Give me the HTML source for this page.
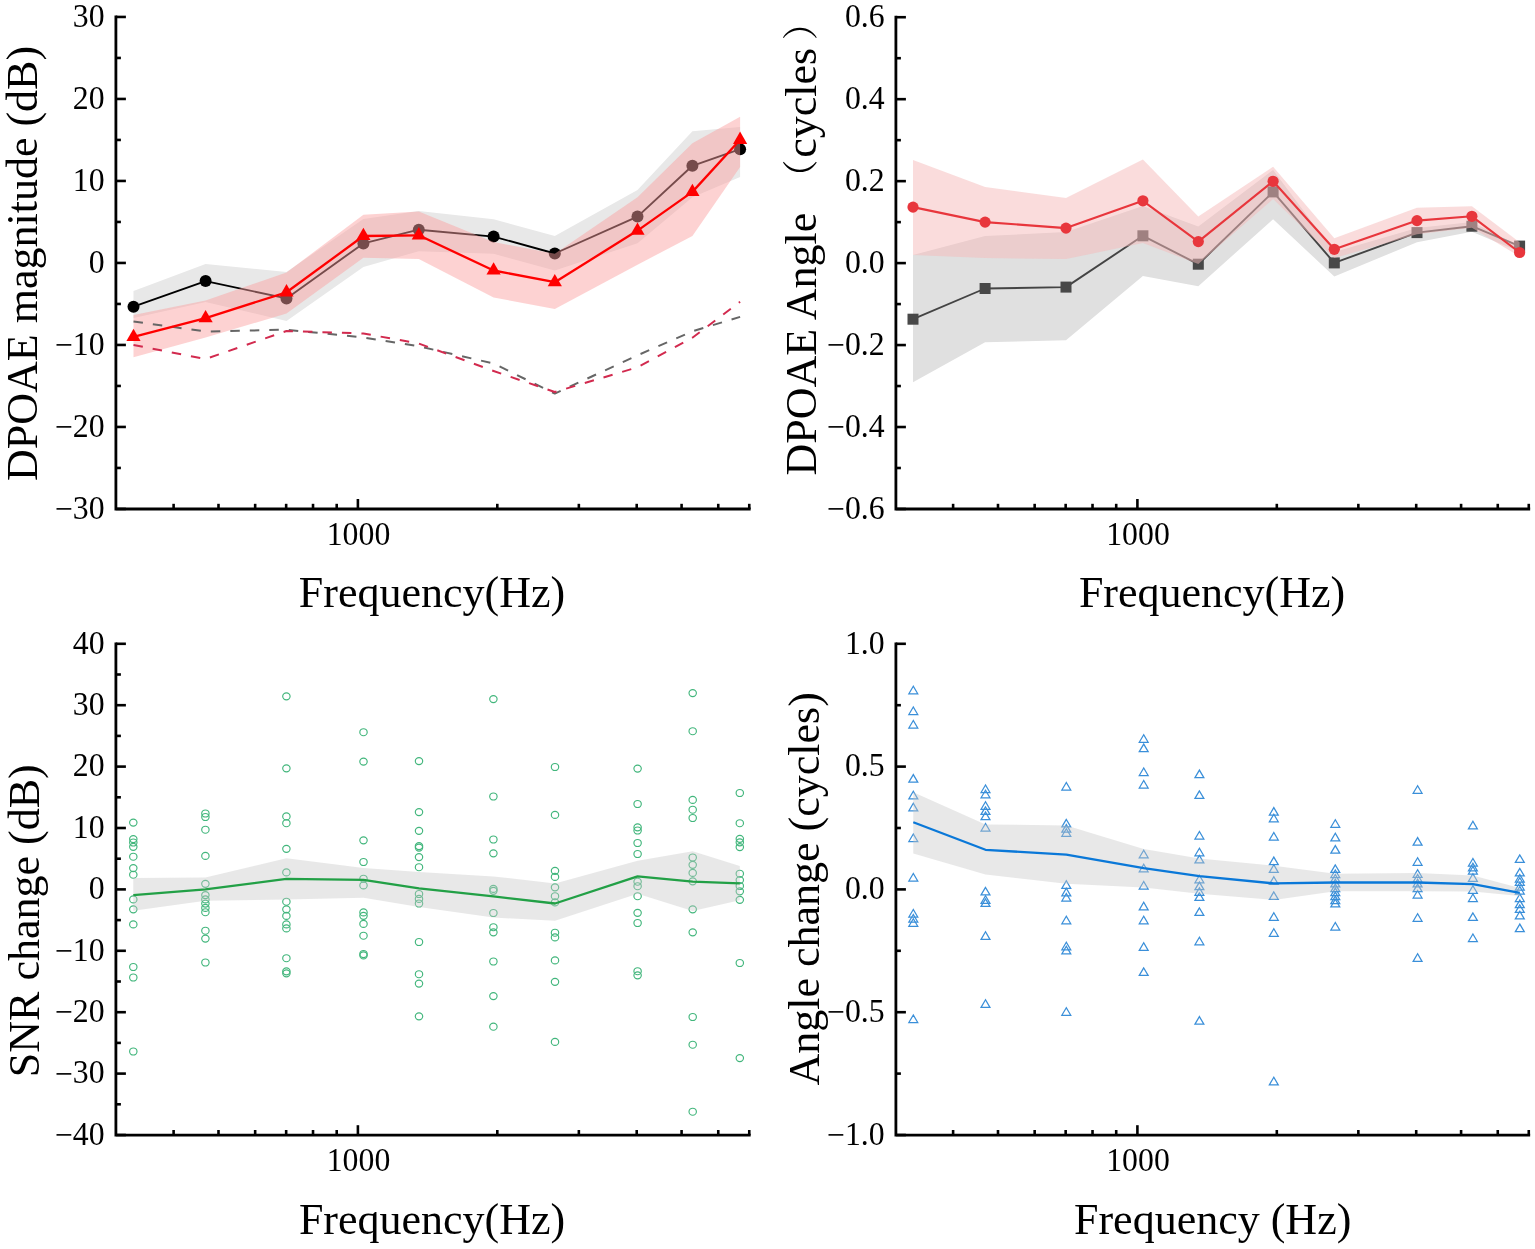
<!DOCTYPE html><html><head><meta charset="utf-8"><style>html,body{margin:0;padding:0;background:#fff;}svg{display:block;}</style></head><body>
<svg width="1535" height="1249" viewBox="0 0 1535 1249" font-family='"Liberation Serif", "Times New Roman", serif' fill="#000">
<rect width="1535" height="1249" fill="#fff"/>
<polygon points="133.5,291 205.6,264.1 286.5,272 363.4,219 418.8,211 493.6,219.3 554.8,236 637.5,190.1 692.4,131.2 740.1,127 740.1,177 692.4,197.3 637.5,243.2 554.8,270.4 493.6,253.8 418.8,251.2 363.4,266.9 286.5,321 205.6,302 133.5,318" fill="#e8e8e8"/>
<polyline points="133.5,306.7 205.6,281.1 286.5,298.4 363.4,243.4 418.8,229.7 493.6,236.6 554.8,253.5 637.5,216.6 692.4,165.8 740.1,149.2" fill="none" stroke="#000" stroke-width="1.9" stroke-linejoin="round" stroke-linecap="butt" />
<circle cx="133.5" cy="306.7" r="6" fill="#000"/>
<circle cx="205.6" cy="281.1" r="6" fill="#000"/>
<circle cx="286.5" cy="298.4" r="6" fill="#000"/>
<circle cx="363.4" cy="243.4" r="6" fill="#000"/>
<circle cx="418.8" cy="229.7" r="6" fill="#000"/>
<circle cx="493.6" cy="236.6" r="6" fill="#000"/>
<circle cx="554.8" cy="253.5" r="6" fill="#000"/>
<circle cx="637.5" cy="216.6" r="6" fill="#000"/>
<circle cx="692.4" cy="165.8" r="6" fill="#000"/>
<circle cx="740.1" cy="149.2" r="6" fill="#000"/>
<polygon points="133.5,315.1 205.6,300.4 286.5,272.5 363.4,214.8 418.8,211.5 493.6,242 554.8,253.8 637.5,197.3 692.4,143.2 740.1,116.8 740.1,167 692.4,236 637.5,264.7 554.8,309.1 493.6,297.5 418.8,259 363.4,257.8 286.5,313.5 205.6,337.5 133.5,357.3" fill="rgba(250,160,160,0.47)"/>
<polyline points="133.5,321.5 205.6,331.5 286.5,329.7 363.4,337.5 418.8,346.3 493.6,363.5 554.8,393.6 637.5,355.3 692.4,331.3 740.1,316.9" fill="none" stroke="#666666" stroke-width="2" stroke-linejoin="round" stroke-linecap="butt" stroke-dasharray="9.5 10"/>
<polyline points="133.5,345 205.6,359 286.5,331 363.4,333.5 418.8,343.5 493.6,371 554.8,392 637.5,367.3 692.4,337.7 740.1,301.7" fill="none" stroke="#d22a4e" stroke-width="2" stroke-linejoin="round" stroke-linecap="butt" stroke-dasharray="9.5 10"/>
<polyline points="133.5,336.9 205.6,318.1 286.5,292.3 363.4,236 418.8,235.3 493.6,270.5 554.8,282.2 637.5,230.6 692.4,191.9 740.1,139.8" fill="none" stroke="#ff0000" stroke-width="2.3" stroke-linejoin="round" stroke-linecap="butt" />
<polygon points="133.5,328.7 126.4,341 140.6,341" fill="#ff0000"/>
<polygon points="205.6,309.9 198.5,322.2 212.7,322.2" fill="#ff0000"/>
<polygon points="286.5,284.1 279.4,296.4 293.6,296.4" fill="#ff0000"/>
<polygon points="363.4,227.8 356.3,240.1 370.5,240.1" fill="#ff0000"/>
<polygon points="418.8,227.1 411.7,239.4 425.9,239.4" fill="#ff0000"/>
<polygon points="493.6,262.3 486.5,274.6 500.7,274.6" fill="#ff0000"/>
<polygon points="554.8,274 547.7,286.3 561.9,286.3" fill="#ff0000"/>
<polygon points="637.5,222.4 630.4,234.7 644.6,234.7" fill="#ff0000"/>
<polygon points="692.4,183.7 685.3,196 699.5,196" fill="#ff0000"/>
<polygon points="740.1,131.6 733,143.9 747.2,143.9" fill="#ff0000"/>
<line x1="115.9" y1="16.95" x2="125.9" y2="16.95" stroke="#000" stroke-width="2.6"/>
<line x1="115.9" y1="98.95" x2="125.9" y2="98.95" stroke="#000" stroke-width="2.6"/>
<line x1="115.9" y1="180.95" x2="125.9" y2="180.95" stroke="#000" stroke-width="2.6"/>
<line x1="115.9" y1="262.95" x2="125.9" y2="262.95" stroke="#000" stroke-width="2.6"/>
<line x1="115.9" y1="344.95" x2="125.9" y2="344.95" stroke="#000" stroke-width="2.6"/>
<line x1="115.9" y1="426.95" x2="125.9" y2="426.95" stroke="#000" stroke-width="2.6"/>
<line x1="115.9" y1="508.95" x2="125.9" y2="508.95" stroke="#000" stroke-width="2.6"/>
<line x1="115.9" y1="57.95" x2="120.9" y2="57.95" stroke="#000" stroke-width="2.6"/>
<line x1="115.9" y1="139.95" x2="120.9" y2="139.95" stroke="#000" stroke-width="2.6"/>
<line x1="115.9" y1="221.95" x2="120.9" y2="221.95" stroke="#000" stroke-width="2.6"/>
<line x1="115.9" y1="303.95" x2="120.9" y2="303.95" stroke="#000" stroke-width="2.6"/>
<line x1="115.9" y1="385.95" x2="120.9" y2="385.95" stroke="#000" stroke-width="2.6"/>
<line x1="115.9" y1="467.95" x2="120.9" y2="467.95" stroke="#000" stroke-width="2.6"/>
<line x1="173.61" y1="509" x2="173.61" y2="503.8" stroke="#000" stroke-width="2.6"/>
<line x1="218.49" y1="509" x2="218.49" y2="503.8" stroke="#000" stroke-width="2.6"/>
<line x1="255.16" y1="509" x2="255.16" y2="503.8" stroke="#000" stroke-width="2.6"/>
<line x1="286.16" y1="509" x2="286.16" y2="503.8" stroke="#000" stroke-width="2.6"/>
<line x1="313.02" y1="509" x2="313.02" y2="503.8" stroke="#000" stroke-width="2.6"/>
<line x1="336.71" y1="509" x2="336.71" y2="503.8" stroke="#000" stroke-width="2.6"/>
<line x1="497.31" y1="509" x2="497.31" y2="503.8" stroke="#000" stroke-width="2.6"/>
<line x1="578.85" y1="509" x2="578.85" y2="503.8" stroke="#000" stroke-width="2.6"/>
<line x1="636.71" y1="509" x2="636.71" y2="503.8" stroke="#000" stroke-width="2.6"/>
<line x1="681.59" y1="509" x2="681.59" y2="503.8" stroke="#000" stroke-width="2.6"/>
<line x1="718.26" y1="509" x2="718.26" y2="503.8" stroke="#000" stroke-width="2.6"/>
<line x1="749.26" y1="509" x2="749.26" y2="503.8" stroke="#000" stroke-width="2.6"/>
<line x1="357.9" y1="509" x2="357.9" y2="499" stroke="#000" stroke-width="2.6"/>
<path d="M115.9 16.9 V509 H749.26" fill="none" stroke="#000" stroke-width="2.8" stroke-linecap="square"/>
<text transform="translate(104.6 26.75) scale(0.954 1)" text-anchor="end" font-size="33.3">30</text>
<text transform="translate(104.6 108.75) scale(0.954 1)" text-anchor="end" font-size="33.3">20</text>
<text transform="translate(104.6 190.75) scale(0.954 1)" text-anchor="end" font-size="33.3">10</text>
<text transform="translate(104.6 272.75) scale(0.954 1)" text-anchor="end" font-size="33.3">0</text>
<text transform="translate(104.6 354.75) scale(0.954 1)" text-anchor="end" font-size="33.3"><tspan dy="1.2">−</tspan><tspan dy="-1.2">10</tspan></text>
<text transform="translate(104.6 436.75) scale(0.954 1)" text-anchor="end" font-size="33.3"><tspan dy="1.2">−</tspan><tspan dy="-1.2">20</tspan></text>
<text transform="translate(104.6 518.75) scale(0.954 1)" text-anchor="end" font-size="33.3"><tspan dy="1.2">−</tspan><tspan dy="-1.2">30</tspan></text>
<text transform="translate(358.5 545.2) scale(0.954 1)" text-anchor="middle" font-size="33.3">1000</text>
<text x="298.8" y="607.2" font-size="44" >Frequency(Hz)</text>
<text transform="translate(37 481) rotate(-90)" font-size="44">DPOAE magnitude (dB)</text>
<polygon points="913,255.1 985.1,236.1 1066,232.1 1142.9,206 1198.3,226.4 1273.1,170 1334.3,252 1417,228 1471.9,222 1519.6,246 1519.6,251.7 1471.9,231.8 1417,242.2 1334.3,276.5 1273.1,219.2 1198.3,286.2 1142.9,276.1 1066,340.2 985.1,342.2 913,382.2" fill="#e0e0e0"/>
<polyline points="913,319.2 985.1,288.5 1066,287.1 1142.9,235.8 1198.3,264.2 1273.1,191.9 1334.3,262.9 1417,232.6 1471.9,226.2 1519.6,246.1" fill="none" stroke="#444444" stroke-width="1.9" stroke-linejoin="round" stroke-linecap="butt" />
<rect x="907.5" y="313.7" width="11" height="11" fill="#484848"/>
<rect x="979.6" y="283" width="11" height="11" fill="#484848"/>
<rect x="1060.5" y="281.6" width="11" height="11" fill="#484848"/>
<rect x="1137.4" y="230.3" width="11" height="11" fill="#484848"/>
<rect x="1192.8" y="258.7" width="11" height="11" fill="#484848"/>
<rect x="1267.6" y="186.4" width="11" height="11" fill="#484848"/>
<rect x="1328.8" y="257.4" width="11" height="11" fill="#484848"/>
<rect x="1411.5" y="227.1" width="11" height="11" fill="#484848"/>
<rect x="1466.4" y="220.7" width="11" height="11" fill="#484848"/>
<rect x="1514.1" y="240.6" width="11" height="11" fill="#484848"/>
<polygon points="913,160 985.1,187 1066,198.1 1142.9,159.4 1198.3,216.4 1273.1,166.7 1334.3,238.2 1417,207.8 1471.9,206.2 1519.6,242.2 1519.6,256.5 1471.9,227.8 1417,234.2 1334.3,258.1 1273.1,199 1198.3,264 1142.9,243 1066,259.1 985.1,258.1 913,255.1" fill="rgba(245,185,185,0.5)"/>
<polyline points="913,207.1 985.1,222.1 1066,228.1 1142.9,200.8 1198.3,241.6 1273.1,181.3 1334.3,249.3 1417,220.6 1471.9,216.3 1519.6,252.5" fill="none" stroke="#e8363c" stroke-width="2.1" stroke-linejoin="round" stroke-linecap="butt" />
<circle cx="913" cy="207.1" r="5.6" fill="#e8363c"/>
<circle cx="985.1" cy="222.1" r="5.6" fill="#e8363c"/>
<circle cx="1066" cy="228.1" r="5.6" fill="#e8363c"/>
<circle cx="1142.9" cy="200.8" r="5.6" fill="#e8363c"/>
<circle cx="1198.3" cy="241.6" r="5.6" fill="#e8363c"/>
<circle cx="1273.1" cy="181.3" r="5.6" fill="#e8363c"/>
<circle cx="1334.3" cy="249.3" r="5.6" fill="#e8363c"/>
<circle cx="1417" cy="220.6" r="5.6" fill="#e8363c"/>
<circle cx="1471.9" cy="216.3" r="5.6" fill="#e8363c"/>
<circle cx="1519.6" cy="252.5" r="5.6" fill="#e8363c"/>
<line x1="895.9" y1="17.22" x2="905.9" y2="17.22" stroke="#000" stroke-width="2.6"/>
<line x1="895.9" y1="99.18" x2="905.9" y2="99.18" stroke="#000" stroke-width="2.6"/>
<line x1="895.9" y1="181.14" x2="905.9" y2="181.14" stroke="#000" stroke-width="2.6"/>
<line x1="895.9" y1="263.1" x2="905.9" y2="263.1" stroke="#000" stroke-width="2.6"/>
<line x1="895.9" y1="345.06" x2="905.9" y2="345.06" stroke="#000" stroke-width="2.6"/>
<line x1="895.9" y1="427.02" x2="905.9" y2="427.02" stroke="#000" stroke-width="2.6"/>
<line x1="895.9" y1="508.98" x2="905.9" y2="508.98" stroke="#000" stroke-width="2.6"/>
<line x1="895.9" y1="58.2" x2="900.9" y2="58.2" stroke="#000" stroke-width="2.6"/>
<line x1="895.9" y1="140.16" x2="900.9" y2="140.16" stroke="#000" stroke-width="2.6"/>
<line x1="895.9" y1="222.12" x2="900.9" y2="222.12" stroke="#000" stroke-width="2.6"/>
<line x1="895.9" y1="304.08" x2="900.9" y2="304.08" stroke="#000" stroke-width="2.6"/>
<line x1="895.9" y1="386.04" x2="900.9" y2="386.04" stroke="#000" stroke-width="2.6"/>
<line x1="895.9" y1="468" x2="900.9" y2="468" stroke="#000" stroke-width="2.6"/>
<line x1="953.11" y1="509" x2="953.11" y2="503.8" stroke="#000" stroke-width="2.6"/>
<line x1="997.99" y1="509" x2="997.99" y2="503.8" stroke="#000" stroke-width="2.6"/>
<line x1="1034.66" y1="509" x2="1034.66" y2="503.8" stroke="#000" stroke-width="2.6"/>
<line x1="1065.66" y1="509" x2="1065.66" y2="503.8" stroke="#000" stroke-width="2.6"/>
<line x1="1092.52" y1="509" x2="1092.52" y2="503.8" stroke="#000" stroke-width="2.6"/>
<line x1="1116.21" y1="509" x2="1116.21" y2="503.8" stroke="#000" stroke-width="2.6"/>
<line x1="1276.81" y1="509" x2="1276.81" y2="503.8" stroke="#000" stroke-width="2.6"/>
<line x1="1358.35" y1="509" x2="1358.35" y2="503.8" stroke="#000" stroke-width="2.6"/>
<line x1="1416.21" y1="509" x2="1416.21" y2="503.8" stroke="#000" stroke-width="2.6"/>
<line x1="1461.09" y1="509" x2="1461.09" y2="503.8" stroke="#000" stroke-width="2.6"/>
<line x1="1497.76" y1="509" x2="1497.76" y2="503.8" stroke="#000" stroke-width="2.6"/>
<line x1="1528.76" y1="509" x2="1528.76" y2="503.8" stroke="#000" stroke-width="2.6"/>
<line x1="1137.4" y1="509" x2="1137.4" y2="499" stroke="#000" stroke-width="2.6"/>
<path d="M895.9 17.2 V509 H1528.76" fill="none" stroke="#000" stroke-width="2.8" stroke-linecap="square"/>
<text transform="translate(884.6 27.02) scale(0.954 1)" text-anchor="end" font-size="33.3">0.6</text>
<text transform="translate(884.6 108.98) scale(0.954 1)" text-anchor="end" font-size="33.3">0.4</text>
<text transform="translate(884.6 190.94) scale(0.954 1)" text-anchor="end" font-size="33.3">0.2</text>
<text transform="translate(884.6 272.9) scale(0.954 1)" text-anchor="end" font-size="33.3">0.0</text>
<text transform="translate(884.6 354.86) scale(0.954 1)" text-anchor="end" font-size="33.3"><tspan dy="1.2">−</tspan><tspan dy="-1.2">0.2</tspan></text>
<text transform="translate(884.6 436.82) scale(0.954 1)" text-anchor="end" font-size="33.3"><tspan dy="1.2">−</tspan><tspan dy="-1.2">0.4</tspan></text>
<text transform="translate(884.6 518.78) scale(0.954 1)" text-anchor="end" font-size="33.3"><tspan dy="1.2">−</tspan><tspan dy="-1.2">0.6</tspan></text>
<text transform="translate(1138 545.2) scale(0.954 1)" text-anchor="middle" font-size="33.3">1000</text>
<text x="1078.9" y="606.8" font-size="44" >Frequency(Hz)</text>
<text transform="translate(816.3 475.5) rotate(-90)" font-size="44">DPOAE Angle <tspan font-family="Noto Serif CJK SC" font-size="36" dx="6.3" dy="-2.2">（</tspan><tspan dx="1.7" dy="2.2">cycles</tspan><tspan dx="7.5" dy="-2.2" font-family="Noto Serif CJK SC" font-size="36">）</tspan></text>
<g fill="none" stroke="#42b67c" stroke-width="1.15">
<ellipse cx="133.3" cy="822.6" rx="3.7" ry="3.5"/>
<ellipse cx="133.3" cy="839.1" rx="3.7" ry="3.5"/>
<ellipse cx="133.3" cy="842.5" rx="3.7" ry="3.5"/>
<ellipse cx="133.3" cy="846.8" rx="3.7" ry="3.5"/>
<ellipse cx="133.3" cy="856.7" rx="3.7" ry="3.5"/>
<ellipse cx="133.3" cy="868.1" rx="3.7" ry="3.5"/>
<ellipse cx="133.3" cy="874.7" rx="3.7" ry="3.5"/>
<ellipse cx="133.3" cy="899.4" rx="3.7" ry="3.5"/>
<ellipse cx="133.3" cy="909.3" rx="3.7" ry="3.5"/>
<ellipse cx="133.3" cy="924.4" rx="3.7" ry="3.5"/>
<ellipse cx="133.3" cy="967" rx="3.7" ry="3.5"/>
<ellipse cx="133.3" cy="977.5" rx="3.7" ry="3.5"/>
<ellipse cx="133.3" cy="1051.5" rx="3.7" ry="3.5"/>
<ellipse cx="205.4" cy="813.5" rx="3.7" ry="3.5"/>
<ellipse cx="205.4" cy="817" rx="3.7" ry="3.5"/>
<ellipse cx="205.4" cy="829.7" rx="3.7" ry="3.5"/>
<ellipse cx="205.4" cy="855.9" rx="3.7" ry="3.5"/>
<ellipse cx="205.4" cy="883.8" rx="3.7" ry="3.5"/>
<ellipse cx="205.4" cy="895.1" rx="3.7" ry="3.5"/>
<ellipse cx="205.4" cy="899.4" rx="3.7" ry="3.5"/>
<ellipse cx="205.4" cy="903.6" rx="3.7" ry="3.5"/>
<ellipse cx="205.4" cy="907.9" rx="3.7" ry="3.5"/>
<ellipse cx="205.4" cy="912.2" rx="3.7" ry="3.5"/>
<ellipse cx="205.4" cy="930.7" rx="3.7" ry="3.5"/>
<ellipse cx="205.4" cy="938.6" rx="3.7" ry="3.5"/>
<ellipse cx="205.4" cy="962.5" rx="3.7" ry="3.5"/>
<ellipse cx="286.4" cy="696.3" rx="3.7" ry="3.5"/>
<ellipse cx="286.4" cy="768.3" rx="3.7" ry="3.5"/>
<ellipse cx="286.4" cy="816.4" rx="3.7" ry="3.5"/>
<ellipse cx="286.4" cy="823.2" rx="3.7" ry="3.5"/>
<ellipse cx="286.4" cy="848.8" rx="3.7" ry="3.5"/>
<ellipse cx="286.4" cy="872.4" rx="3.7" ry="3.5"/>
<ellipse cx="286.4" cy="901.7" rx="3.7" ry="3.5"/>
<ellipse cx="286.4" cy="909.3" rx="3.7" ry="3.5"/>
<ellipse cx="286.4" cy="915.9" rx="3.7" ry="3.5"/>
<ellipse cx="286.4" cy="924.4" rx="3.7" ry="3.5"/>
<ellipse cx="286.4" cy="928.4" rx="3.7" ry="3.5"/>
<ellipse cx="286.4" cy="958.2" rx="3.7" ry="3.5"/>
<ellipse cx="286.4" cy="971.3" rx="3.7" ry="3.5"/>
<ellipse cx="286.4" cy="973.3" rx="3.7" ry="3.5"/>
<ellipse cx="363.5" cy="732.2" rx="3.7" ry="3.5"/>
<ellipse cx="363.5" cy="761.6" rx="3.7" ry="3.5"/>
<ellipse cx="363.5" cy="840.3" rx="3.7" ry="3.5"/>
<ellipse cx="363.5" cy="862" rx="3.7" ry="3.5"/>
<ellipse cx="363.5" cy="878.7" rx="3.7" ry="3.5"/>
<ellipse cx="363.5" cy="885.4" rx="3.7" ry="3.5"/>
<ellipse cx="363.5" cy="912.4" rx="3.7" ry="3.5"/>
<ellipse cx="363.5" cy="915.8" rx="3.7" ry="3.5"/>
<ellipse cx="363.5" cy="923.9" rx="3.7" ry="3.5"/>
<ellipse cx="363.5" cy="935.7" rx="3.7" ry="3.5"/>
<ellipse cx="363.5" cy="954" rx="3.7" ry="3.5"/>
<ellipse cx="363.5" cy="955.4" rx="3.7" ry="3.5"/>
<ellipse cx="419" cy="761.1" rx="3.7" ry="3.5"/>
<ellipse cx="419" cy="812.1" rx="3.7" ry="3.5"/>
<ellipse cx="419" cy="830.8" rx="3.7" ry="3.5"/>
<ellipse cx="419" cy="846.1" rx="3.7" ry="3.5"/>
<ellipse cx="419" cy="847.6" rx="3.7" ry="3.5"/>
<ellipse cx="419" cy="857.1" rx="3.7" ry="3.5"/>
<ellipse cx="419" cy="867.2" rx="3.7" ry="3.5"/>
<ellipse cx="419" cy="894" rx="3.7" ry="3.5"/>
<ellipse cx="419" cy="898.9" rx="3.7" ry="3.5"/>
<ellipse cx="419" cy="903.5" rx="3.7" ry="3.5"/>
<ellipse cx="419" cy="942" rx="3.7" ry="3.5"/>
<ellipse cx="419" cy="974.2" rx="3.7" ry="3.5"/>
<ellipse cx="419" cy="983.6" rx="3.7" ry="3.5"/>
<ellipse cx="419" cy="1016.3" rx="3.7" ry="3.5"/>
<ellipse cx="493.4" cy="699.1" rx="3.7" ry="3.5"/>
<ellipse cx="493.4" cy="796.5" rx="3.7" ry="3.5"/>
<ellipse cx="493.4" cy="839.5" rx="3.7" ry="3.5"/>
<ellipse cx="493.4" cy="853.3" rx="3.7" ry="3.5"/>
<ellipse cx="493.4" cy="888.9" rx="3.7" ry="3.5"/>
<ellipse cx="493.4" cy="890.8" rx="3.7" ry="3.5"/>
<ellipse cx="493.4" cy="913" rx="3.7" ry="3.5"/>
<ellipse cx="493.4" cy="927.2" rx="3.7" ry="3.5"/>
<ellipse cx="493.4" cy="932.3" rx="3.7" ry="3.5"/>
<ellipse cx="493.4" cy="961.5" rx="3.7" ry="3.5"/>
<ellipse cx="493.4" cy="996.1" rx="3.7" ry="3.5"/>
<ellipse cx="493.4" cy="1026.7" rx="3.7" ry="3.5"/>
<ellipse cx="555" cy="767" rx="3.7" ry="3.5"/>
<ellipse cx="555" cy="814.9" rx="3.7" ry="3.5"/>
<ellipse cx="555" cy="870.8" rx="3.7" ry="3.5"/>
<ellipse cx="555" cy="876.9" rx="3.7" ry="3.5"/>
<ellipse cx="555" cy="887.3" rx="3.7" ry="3.5"/>
<ellipse cx="555" cy="896.2" rx="3.7" ry="3.5"/>
<ellipse cx="555" cy="902.4" rx="3.7" ry="3.5"/>
<ellipse cx="555" cy="932.7" rx="3.7" ry="3.5"/>
<ellipse cx="555" cy="937.4" rx="3.7" ry="3.5"/>
<ellipse cx="555" cy="960.4" rx="3.7" ry="3.5"/>
<ellipse cx="555" cy="981.8" rx="3.7" ry="3.5"/>
<ellipse cx="555" cy="1041.9" rx="3.7" ry="3.5"/>
<ellipse cx="637.6" cy="768.6" rx="3.7" ry="3.5"/>
<ellipse cx="637.6" cy="804" rx="3.7" ry="3.5"/>
<ellipse cx="637.6" cy="827.3" rx="3.7" ry="3.5"/>
<ellipse cx="637.6" cy="830.5" rx="3.7" ry="3.5"/>
<ellipse cx="637.6" cy="843" rx="3.7" ry="3.5"/>
<ellipse cx="637.6" cy="854" rx="3.7" ry="3.5"/>
<ellipse cx="637.6" cy="881.7" rx="3.7" ry="3.5"/>
<ellipse cx="637.6" cy="886.2" rx="3.7" ry="3.5"/>
<ellipse cx="637.6" cy="896.2" rx="3.7" ry="3.5"/>
<ellipse cx="637.6" cy="912.8" rx="3.7" ry="3.5"/>
<ellipse cx="637.6" cy="923" rx="3.7" ry="3.5"/>
<ellipse cx="637.6" cy="971.2" rx="3.7" ry="3.5"/>
<ellipse cx="637.6" cy="975.3" rx="3.7" ry="3.5"/>
<ellipse cx="692.7" cy="693.1" rx="3.7" ry="3.5"/>
<ellipse cx="692.7" cy="731.2" rx="3.7" ry="3.5"/>
<ellipse cx="692.7" cy="799.9" rx="3.7" ry="3.5"/>
<ellipse cx="692.7" cy="809.7" rx="3.7" ry="3.5"/>
<ellipse cx="692.7" cy="818" rx="3.7" ry="3.5"/>
<ellipse cx="692.7" cy="857.5" rx="3.7" ry="3.5"/>
<ellipse cx="692.7" cy="864.8" rx="3.7" ry="3.5"/>
<ellipse cx="692.7" cy="872.9" rx="3.7" ry="3.5"/>
<ellipse cx="692.7" cy="881.3" rx="3.7" ry="3.5"/>
<ellipse cx="692.7" cy="909.3" rx="3.7" ry="3.5"/>
<ellipse cx="692.7" cy="932.3" rx="3.7" ry="3.5"/>
<ellipse cx="692.7" cy="1017" rx="3.7" ry="3.5"/>
<ellipse cx="692.7" cy="1044.7" rx="3.7" ry="3.5"/>
<ellipse cx="692.7" cy="1111.7" rx="3.7" ry="3.5"/>
<ellipse cx="739.8" cy="793" rx="3.7" ry="3.5"/>
<ellipse cx="739.8" cy="823.2" rx="3.7" ry="3.5"/>
<ellipse cx="739.8" cy="838.8" rx="3.7" ry="3.5"/>
<ellipse cx="739.8" cy="842.3" rx="3.7" ry="3.5"/>
<ellipse cx="739.8" cy="847.1" rx="3.7" ry="3.5"/>
<ellipse cx="739.8" cy="873.7" rx="3.7" ry="3.5"/>
<ellipse cx="739.8" cy="880.1" rx="3.7" ry="3.5"/>
<ellipse cx="739.8" cy="886" rx="3.7" ry="3.5"/>
<ellipse cx="739.8" cy="891.3" rx="3.7" ry="3.5"/>
<ellipse cx="739.8" cy="899.8" rx="3.7" ry="3.5"/>
<ellipse cx="739.8" cy="963" rx="3.7" ry="3.5"/>
<ellipse cx="739.8" cy="1058.1" rx="3.7" ry="3.5"/>
</g>
<polygon points="133.3,878 205.4,877.5 286.4,858.2 363.5,868 419,872 493.4,876.4 555,883.5 637.6,860.7 692.7,851.3 739.8,865.9 739.8,900.3 692.7,911 637.6,893.8 555,920.8 493.4,917.5 419,907 363.5,897.7 286.4,899.4 205.4,900.8 133.3,910.8" fill="rgba(198,198,198,0.40)"/>
<polyline points="133.3,895.1 205.4,889.4 286.4,878.9 363.5,879.8 419,888.4 493.4,896.4 555,903.5 637.6,876.4 692.7,881.7 739.8,883.4" fill="none" stroke="#22a046" stroke-width="2.3" stroke-linejoin="round" stroke-linecap="butt" />
<line x1="115.9" y1="643.8" x2="125.9" y2="643.8" stroke="#000" stroke-width="2.6"/>
<line x1="115.9" y1="705.2" x2="125.9" y2="705.2" stroke="#000" stroke-width="2.6"/>
<line x1="115.9" y1="766.6" x2="125.9" y2="766.6" stroke="#000" stroke-width="2.6"/>
<line x1="115.9" y1="828" x2="125.9" y2="828" stroke="#000" stroke-width="2.6"/>
<line x1="115.9" y1="889.4" x2="125.9" y2="889.4" stroke="#000" stroke-width="2.6"/>
<line x1="115.9" y1="950.8" x2="125.9" y2="950.8" stroke="#000" stroke-width="2.6"/>
<line x1="115.9" y1="1012.2" x2="125.9" y2="1012.2" stroke="#000" stroke-width="2.6"/>
<line x1="115.9" y1="1073.6" x2="125.9" y2="1073.6" stroke="#000" stroke-width="2.6"/>
<line x1="115.9" y1="1135" x2="125.9" y2="1135" stroke="#000" stroke-width="2.6"/>
<line x1="115.9" y1="674.5" x2="120.9" y2="674.5" stroke="#000" stroke-width="2.6"/>
<line x1="115.9" y1="735.9" x2="120.9" y2="735.9" stroke="#000" stroke-width="2.6"/>
<line x1="115.9" y1="797.3" x2="120.9" y2="797.3" stroke="#000" stroke-width="2.6"/>
<line x1="115.9" y1="858.7" x2="120.9" y2="858.7" stroke="#000" stroke-width="2.6"/>
<line x1="115.9" y1="920.1" x2="120.9" y2="920.1" stroke="#000" stroke-width="2.6"/>
<line x1="115.9" y1="981.5" x2="120.9" y2="981.5" stroke="#000" stroke-width="2.6"/>
<line x1="115.9" y1="1042.9" x2="120.9" y2="1042.9" stroke="#000" stroke-width="2.6"/>
<line x1="115.9" y1="1104.3" x2="120.9" y2="1104.3" stroke="#000" stroke-width="2.6"/>
<line x1="173.61" y1="1135.2" x2="173.61" y2="1130" stroke="#000" stroke-width="2.6"/>
<line x1="218.49" y1="1135.2" x2="218.49" y2="1130" stroke="#000" stroke-width="2.6"/>
<line x1="255.16" y1="1135.2" x2="255.16" y2="1130" stroke="#000" stroke-width="2.6"/>
<line x1="286.16" y1="1135.2" x2="286.16" y2="1130" stroke="#000" stroke-width="2.6"/>
<line x1="313.02" y1="1135.2" x2="313.02" y2="1130" stroke="#000" stroke-width="2.6"/>
<line x1="336.71" y1="1135.2" x2="336.71" y2="1130" stroke="#000" stroke-width="2.6"/>
<line x1="497.31" y1="1135.2" x2="497.31" y2="1130" stroke="#000" stroke-width="2.6"/>
<line x1="578.85" y1="1135.2" x2="578.85" y2="1130" stroke="#000" stroke-width="2.6"/>
<line x1="636.71" y1="1135.2" x2="636.71" y2="1130" stroke="#000" stroke-width="2.6"/>
<line x1="681.59" y1="1135.2" x2="681.59" y2="1130" stroke="#000" stroke-width="2.6"/>
<line x1="718.26" y1="1135.2" x2="718.26" y2="1130" stroke="#000" stroke-width="2.6"/>
<line x1="749.26" y1="1135.2" x2="749.26" y2="1130" stroke="#000" stroke-width="2.6"/>
<line x1="357.9" y1="1135.2" x2="357.9" y2="1125.2" stroke="#000" stroke-width="2.6"/>
<path d="M115.9 643.8 V1135.2 H749.26" fill="none" stroke="#000" stroke-width="2.8" stroke-linecap="square"/>
<text transform="translate(104.6 653.6) scale(0.954 1)" text-anchor="end" font-size="33.3">40</text>
<text transform="translate(104.6 715) scale(0.954 1)" text-anchor="end" font-size="33.3">30</text>
<text transform="translate(104.6 776.4) scale(0.954 1)" text-anchor="end" font-size="33.3">20</text>
<text transform="translate(104.6 837.8) scale(0.954 1)" text-anchor="end" font-size="33.3">10</text>
<text transform="translate(104.6 899.2) scale(0.954 1)" text-anchor="end" font-size="33.3">0</text>
<text transform="translate(104.6 960.6) scale(0.954 1)" text-anchor="end" font-size="33.3"><tspan dy="1.2">−</tspan><tspan dy="-1.2">10</tspan></text>
<text transform="translate(104.6 1022) scale(0.954 1)" text-anchor="end" font-size="33.3"><tspan dy="1.2">−</tspan><tspan dy="-1.2">20</tspan></text>
<text transform="translate(104.6 1083.4) scale(0.954 1)" text-anchor="end" font-size="33.3"><tspan dy="1.2">−</tspan><tspan dy="-1.2">30</tspan></text>
<text transform="translate(104.6 1144.8) scale(0.954 1)" text-anchor="end" font-size="33.3"><tspan dy="1.2">−</tspan><tspan dy="-1.2">40</tspan></text>
<text transform="translate(358.5 1171.4) scale(0.954 1)" text-anchor="middle" font-size="33.3">1000</text>
<text x="298.9" y="1233.8" font-size="44" >Frequency(Hz)</text>
<text transform="translate(38.9 1077.2) rotate(-90)" font-size="44">SNR change (dB)</text>
<g fill="none" stroke="#3a8fd9" stroke-width="1.25" stroke-linejoin="miter">
<polygon points="913.3,686.2 908.85,693.75 917.75,693.75"/>
<polygon points="913.3,707 908.85,714.55 917.75,714.55"/>
<polygon points="913.3,720.5 908.85,728.05 917.75,728.05"/>
<polygon points="913.3,774.6 908.85,782.15 917.75,782.15"/>
<polygon points="913.3,791.3 908.85,798.85 917.75,798.85"/>
<polygon points="913.3,803.3 908.85,810.85 917.75,810.85"/>
<polygon points="913.3,834 908.85,841.55 917.75,841.55"/>
<polygon points="913.3,873.5 908.85,881.05 917.75,881.05"/>
<polygon points="913.3,909.5 908.85,917.05 917.75,917.05"/>
<polygon points="913.3,914.5 908.85,922.05 917.75,922.05"/>
<polygon points="913.3,918.7 908.85,926.25 917.75,926.25"/>
<polygon points="913.3,1015 908.85,1022.55 917.75,1022.55"/>
<polygon points="985.5,785 981.05,792.55 989.95,792.55"/>
<polygon points="985.5,790.2 981.05,797.75 989.95,797.75"/>
<polygon points="985.5,801.7 981.05,809.25 989.95,809.25"/>
<polygon points="985.5,806.9 981.05,814.45 989.95,814.45"/>
<polygon points="985.5,812.1 981.05,819.65 989.95,819.65"/>
<polygon points="985.5,823.5 981.05,831.05 989.95,831.05"/>
<polygon points="985.5,887.4 981.05,894.95 989.95,894.95"/>
<polygon points="985.5,895.8 981.05,903.35 989.95,903.35"/>
<polygon points="985.5,898.9 981.05,906.45 989.95,906.45"/>
<polygon points="985.5,931.8 981.05,939.35 989.95,939.35"/>
<polygon points="985.5,999.8 981.05,1007.35 989.95,1007.35"/>
<polygon points="1066.3,782.5 1061.85,790.05 1070.75,790.05"/>
<polygon points="1066.3,819.4 1061.85,826.95 1070.75,826.95"/>
<polygon points="1066.3,824.6 1061.85,832.15 1070.75,832.15"/>
<polygon points="1066.3,828.7 1061.85,836.25 1070.75,836.25"/>
<polygon points="1066.3,880.8 1061.85,888.35 1070.75,888.35"/>
<polygon points="1066.3,888.3 1061.85,895.85 1070.75,895.85"/>
<polygon points="1066.3,893.5 1061.85,901.05 1070.75,901.05"/>
<polygon points="1066.3,916.2 1061.85,923.75 1070.75,923.75"/>
<polygon points="1066.3,942.2 1061.85,949.75 1070.75,949.75"/>
<polygon points="1066.3,946.3 1061.85,953.85 1070.75,953.85"/>
<polygon points="1066.3,1007.7 1061.85,1015.25 1070.75,1015.25"/>
<polygon points="1143.7,734.7 1139.25,742.25 1148.15,742.25"/>
<polygon points="1143.7,744.1 1139.25,751.65 1148.15,751.65"/>
<polygon points="1143.7,768 1139.25,775.55 1148.15,775.55"/>
<polygon points="1143.7,780.5 1139.25,788.05 1148.15,788.05"/>
<polygon points="1143.7,850.2 1139.25,857.75 1148.15,857.75"/>
<polygon points="1143.7,864.2 1139.25,871.75 1148.15,871.75"/>
<polygon points="1143.7,881.5 1139.25,889.05 1148.15,889.05"/>
<polygon points="1143.7,902.3 1139.25,909.85 1148.15,909.85"/>
<polygon points="1143.7,916.2 1139.25,923.75 1148.15,923.75"/>
<polygon points="1143.7,942.8 1139.25,950.35 1148.15,950.35"/>
<polygon points="1143.7,967.9 1139.25,975.45 1148.15,975.45"/>
<polygon points="1199.4,770.1 1194.95,777.65 1203.85,777.65"/>
<polygon points="1199.4,790.9 1194.95,798.45 1203.85,798.45"/>
<polygon points="1199.4,831.5 1194.95,839.05 1203.85,839.05"/>
<polygon points="1199.4,848.2 1194.95,855.75 1203.85,855.75"/>
<polygon points="1199.4,855.4 1194.95,862.95 1203.85,862.95"/>
<polygon points="1199.4,875.2 1194.95,882.75 1203.85,882.75"/>
<polygon points="1199.4,882.1 1194.95,889.65 1203.85,889.65"/>
<polygon points="1199.4,887.7 1194.95,895.25 1203.85,895.25"/>
<polygon points="1199.4,892.9 1194.95,900.45 1203.85,900.45"/>
<polygon points="1199.4,907.9 1194.95,915.45 1203.85,915.45"/>
<polygon points="1199.4,937.2 1194.95,944.75 1203.85,944.75"/>
<polygon points="1199.4,1016.6 1194.95,1024.15 1203.85,1024.15"/>
<polygon points="1273.8,807.6 1269.35,815.15 1278.25,815.15"/>
<polygon points="1273.8,814.2 1269.35,821.75 1278.25,821.75"/>
<polygon points="1273.8,832.5 1269.35,840.05 1278.25,840.05"/>
<polygon points="1273.8,857.1 1269.35,864.65 1278.25,864.65"/>
<polygon points="1273.8,864.8 1269.35,872.35 1278.25,872.35"/>
<polygon points="1273.8,876.7 1269.35,884.25 1278.25,884.25"/>
<polygon points="1273.8,891.9 1269.35,899.45 1278.25,899.45"/>
<polygon points="1273.8,912.7 1269.35,920.25 1278.25,920.25"/>
<polygon points="1273.8,928.7 1269.35,936.25 1278.25,936.25"/>
<polygon points="1273.8,1077.3 1269.35,1084.85 1278.25,1084.85"/>
<polygon points="1335.3,819.7 1330.85,827.25 1339.75,827.25"/>
<polygon points="1335.3,833.3 1330.85,840.85 1339.75,840.85"/>
<polygon points="1335.3,845.6 1330.85,853.15 1339.75,853.15"/>
<polygon points="1335.3,864.9 1330.85,872.45 1339.75,872.45"/>
<polygon points="1335.3,870 1330.85,877.55 1339.75,877.55"/>
<polygon points="1335.3,874.5 1330.85,882.05 1339.75,882.05"/>
<polygon points="1335.3,879.3 1330.85,886.85 1339.75,886.85"/>
<polygon points="1335.3,884.1 1330.85,891.65 1339.75,891.65"/>
<polygon points="1335.3,888.1 1330.85,895.65 1339.75,895.65"/>
<polygon points="1335.3,892.1 1330.85,899.65 1339.75,899.65"/>
<polygon points="1335.3,896.1 1330.85,903.65 1339.75,903.65"/>
<polygon points="1335.3,899.3 1330.85,906.85 1339.75,906.85"/>
<polygon points="1335.3,922.5 1330.85,930.05 1339.75,930.05"/>
<polygon points="1417.6,785.7 1413.15,793.25 1422.05,793.25"/>
<polygon points="1417.6,837.6 1413.15,845.15 1422.05,845.15"/>
<polygon points="1417.6,857.7 1413.15,865.25 1422.05,865.25"/>
<polygon points="1417.6,869.7 1413.15,877.25 1422.05,877.25"/>
<polygon points="1417.6,874.5 1413.15,882.05 1422.05,882.05"/>
<polygon points="1417.6,879.3 1413.15,886.85 1422.05,886.85"/>
<polygon points="1417.6,884.1 1413.15,891.65 1422.05,891.65"/>
<polygon points="1417.6,890.5 1413.15,898.05 1422.05,898.05"/>
<polygon points="1417.6,913.7 1413.15,921.25 1422.05,921.25"/>
<polygon points="1417.6,953.8 1413.15,961.35 1422.05,961.35"/>
<polygon points="1472.9,821.3 1468.45,828.85 1477.35,828.85"/>
<polygon points="1472.9,858.5 1468.45,866.05 1477.35,866.05"/>
<polygon points="1472.9,863.3 1468.45,870.85 1477.35,870.85"/>
<polygon points="1472.9,866.5 1468.45,874.05 1477.35,874.05"/>
<polygon points="1472.9,873.7 1468.45,881.25 1477.35,881.25"/>
<polygon points="1472.9,885.7 1468.45,893.25 1477.35,893.25"/>
<polygon points="1472.9,894 1468.45,901.55 1477.35,901.55"/>
<polygon points="1472.9,912.9 1468.45,920.45 1477.35,920.45"/>
<polygon points="1472.9,934 1468.45,941.55 1477.35,941.55"/>
<polygon points="1519.8,854.9 1515.35,862.45 1524.25,862.45"/>
<polygon points="1519.8,868.4 1515.35,875.95 1524.25,875.95"/>
<polygon points="1519.8,874.5 1515.35,882.05 1524.25,882.05"/>
<polygon points="1519.8,877.7 1515.35,885.25 1524.25,885.25"/>
<polygon points="1519.8,882.5 1515.35,890.05 1524.25,890.05"/>
<polygon points="1519.8,886.5 1515.35,894.05 1524.25,894.05"/>
<polygon points="1519.8,894 1515.35,901.55 1524.25,901.55"/>
<polygon points="1519.8,900.1 1515.35,907.65 1524.25,907.65"/>
<polygon points="1519.8,904.9 1515.35,912.45 1524.25,912.45"/>
<polygon points="1519.8,911.3 1515.35,918.85 1524.25,918.85"/>
<polygon points="1519.8,924.1 1515.35,931.65 1524.25,931.65"/>
</g>
<polygon points="913.3,792.2 985.5,824.4 1066.3,825.5 1143.7,849 1199.4,858.4 1273.8,865.7 1335.3,873.7 1417.6,872.9 1472.9,875.5 1519.8,888.1 1519.8,896.1 1472.9,891.5 1417.6,891.3 1335.3,891.3 1273.8,900 1199.4,893.8 1143.7,887.5 1066.3,883.7 985.5,874.4 913.3,853.5" fill="rgba(198,198,198,0.40)"/>
<polyline points="913.3,822.3 985.5,849.8 1066.3,854.6 1143.7,868.2 1199.4,876.1 1273.8,883.4 1335.3,882.5 1417.6,882.5 1472.9,884.1 1519.8,892.9" fill="none" stroke="#0a78d8" stroke-width="2.3" stroke-linejoin="round" stroke-linecap="butt" />
<line x1="895.9" y1="643.8" x2="905.9" y2="643.8" stroke="#000" stroke-width="2.6"/>
<line x1="895.9" y1="766.6" x2="905.9" y2="766.6" stroke="#000" stroke-width="2.6"/>
<line x1="895.9" y1="889.4" x2="905.9" y2="889.4" stroke="#000" stroke-width="2.6"/>
<line x1="895.9" y1="1012.2" x2="905.9" y2="1012.2" stroke="#000" stroke-width="2.6"/>
<line x1="895.9" y1="1135" x2="905.9" y2="1135" stroke="#000" stroke-width="2.6"/>
<line x1="895.9" y1="705.2" x2="900.9" y2="705.2" stroke="#000" stroke-width="2.6"/>
<line x1="895.9" y1="828" x2="900.9" y2="828" stroke="#000" stroke-width="2.6"/>
<line x1="895.9" y1="950.8" x2="900.9" y2="950.8" stroke="#000" stroke-width="2.6"/>
<line x1="895.9" y1="1073.6" x2="900.9" y2="1073.6" stroke="#000" stroke-width="2.6"/>
<line x1="953.11" y1="1135.2" x2="953.11" y2="1130" stroke="#000" stroke-width="2.6"/>
<line x1="997.99" y1="1135.2" x2="997.99" y2="1130" stroke="#000" stroke-width="2.6"/>
<line x1="1034.66" y1="1135.2" x2="1034.66" y2="1130" stroke="#000" stroke-width="2.6"/>
<line x1="1065.66" y1="1135.2" x2="1065.66" y2="1130" stroke="#000" stroke-width="2.6"/>
<line x1="1092.52" y1="1135.2" x2="1092.52" y2="1130" stroke="#000" stroke-width="2.6"/>
<line x1="1116.21" y1="1135.2" x2="1116.21" y2="1130" stroke="#000" stroke-width="2.6"/>
<line x1="1276.81" y1="1135.2" x2="1276.81" y2="1130" stroke="#000" stroke-width="2.6"/>
<line x1="1358.35" y1="1135.2" x2="1358.35" y2="1130" stroke="#000" stroke-width="2.6"/>
<line x1="1416.21" y1="1135.2" x2="1416.21" y2="1130" stroke="#000" stroke-width="2.6"/>
<line x1="1461.09" y1="1135.2" x2="1461.09" y2="1130" stroke="#000" stroke-width="2.6"/>
<line x1="1497.76" y1="1135.2" x2="1497.76" y2="1130" stroke="#000" stroke-width="2.6"/>
<line x1="1528.76" y1="1135.2" x2="1528.76" y2="1130" stroke="#000" stroke-width="2.6"/>
<line x1="1137.4" y1="1135.2" x2="1137.4" y2="1125.2" stroke="#000" stroke-width="2.6"/>
<path d="M895.9 643.8 V1135.2 H1528.76" fill="none" stroke="#000" stroke-width="2.8" stroke-linecap="square"/>
<text transform="translate(884.6 653.6) scale(0.954 1)" text-anchor="end" font-size="33.3">1.0</text>
<text transform="translate(884.6 776.4) scale(0.954 1)" text-anchor="end" font-size="33.3">0.5</text>
<text transform="translate(884.6 899.2) scale(0.954 1)" text-anchor="end" font-size="33.3">0.0</text>
<text transform="translate(884.6 1022) scale(0.954 1)" text-anchor="end" font-size="33.3"><tspan dy="1.2">−</tspan><tspan dy="-1.2">0.5</tspan></text>
<text transform="translate(884.6 1144.8) scale(0.954 1)" text-anchor="end" font-size="33.3"><tspan dy="1.2">−</tspan><tspan dy="-1.2">1.0</tspan></text>
<text transform="translate(1138 1171.4) scale(0.954 1)" text-anchor="middle" font-size="33.3">1000</text>
<text x="1074" y="1233.8" font-size="44" >Frequency (Hz)</text>
<text transform="translate(818.8 1085.5) rotate(-90)" font-size="44">Angle change (cycles)</text>
</svg></body></html>
